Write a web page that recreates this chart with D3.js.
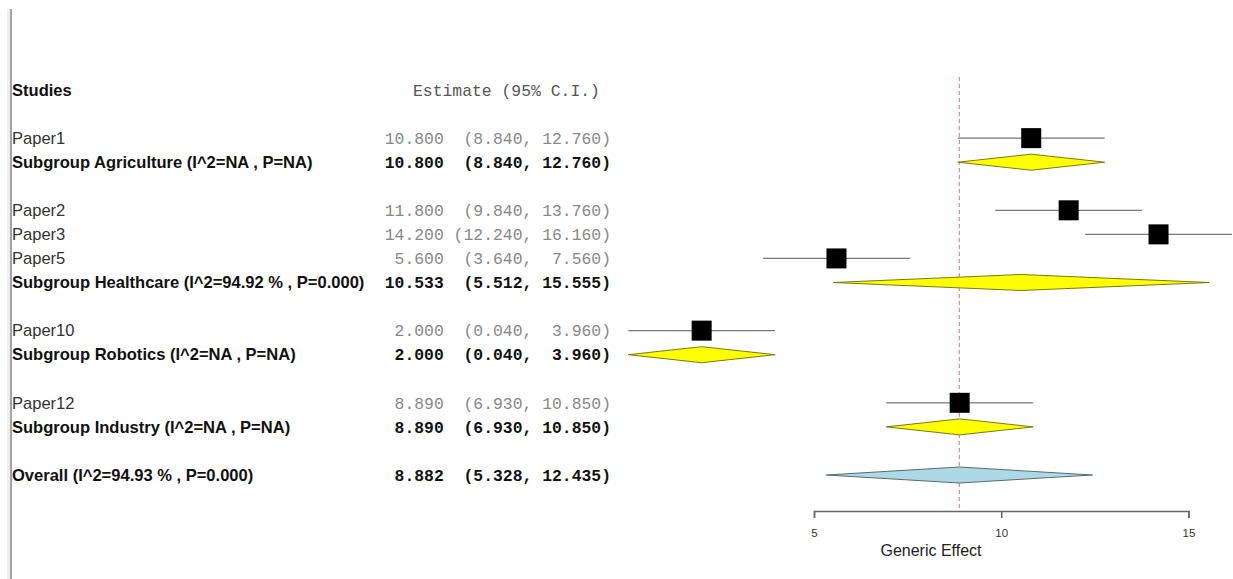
<!DOCTYPE html>
<html>
<head>
<meta charset="utf-8">
<script src="https://cdn.jsdelivr.net/npm/d3@7"></script>
<style>
  html, body { margin: 0; padding: 0; background: #fff; }
  svg { display: block; }
  text { white-space: pre; }
</style>
</head>
<body>
<svg id="chart" width="1233" height="579"></svg>
<script>
// ---- data ----
const labels = ["Paper1", "Subgroup Agriculture (I^2=NA , P=NA)",
  "Paper2", "Paper3", "Paper5", "Subgroup Healthcare (I^2=94.92 % , P=0.000)",
  "Paper10", "Subgroup Robotics (I^2=NA , P=NA)",
  "Paper12", "Subgroup Industry (I^2=NA , P=NA)",
  "Overall (I^2=94.93 % , P=0.000)"];
const rowKinds = ["study", "subgroup", "study", "study", "study", "subgroup",
  "study", "subgroup", "study", "subgroup", "overall"];
const rowIndex = [2, 3, 5, 6, 7, 8, 10, 11, 13, 14, 16];
const estimates = [10.800, 10.800, 11.800, 14.200, 5.600, 10.533, 2.000, 2.000, 8.890, 8.890, 8.882];
const lowers = [8.840, 8.840, 9.840, 12.240, 3.640, 5.512, 0.040, 0.040, 6.930, 6.930, 5.328];
const uppers = [12.760, 12.760, 13.760, 16.160, 7.560, 15.555, 3.960, 3.960, 10.850, 10.850, 12.435];
const tickValues = [5, 10, 15];
const overallEstimate = 8.882;
const headerStudies = "Studies";
const headerEstimate = "Estimate (95% C.I.)";
const axisTitle = "Generic Effect";

// ---- layout ----
const svg = d3.select("#chart");
const x = d3.scaleLinear().domain([5, 15]).range([814, 1188.5]);
const y = d3.scaleLinear().domain([0, 16]).range([90, 475]);
const sans = "'Liberation Sans', Arial, Helvetica, sans-serif";
const mono = "'Liberation Mono', 'Courier New', monospace";
const labelSize = 16.55;

// left border
svg.append("rect").attr("x", 7).attr("y", 9).attr("width", 3).attr("height", 570).attr("fill", "#eeeeee");
svg.append("line").attr("x1", 11).attr("x2", 11).attr("y1", 9).attr("y2", 579)
  .attr("stroke", "#a0a4a8").attr("stroke-width", 2);

// headers
svg.append("text").attr("x", 12).attr("y", y(0)).attr("dy", "0.35em")
  .attr("font-family", sans).attr("font-size", labelSize).attr("font-weight", "bold")
  .attr("fill", "#111").text(headerStudies);
svg.append("text").attr("x", 413).attr("y", y(0)).attr("dy", "0.35em")
  .attr("font-family", mono).attr("font-size", 16.4)
  .attr("fill", "#555").text(headerEstimate);

const rows = labels.map((l, i) => ({
  label: l, kind: rowKinds[i], row: rowIndex[i],
  est: estimates[i], lo: lowers[i], hi: uppers[i]
}));

function fmtCI(d) {
  const e = d.est.toFixed(3).padStart(6);
  const lo = ("(" + d.lo.toFixed(3) + ",").padStart(8);
  const hi = (d.hi.toFixed(3) + ")").padStart(7);
  return e + " " + lo + " " + hi;
}

// labels
svg.selectAll("text.lab").data(rows).enter().append("text")
  .attr("class", "lab")
  .attr("x", 12).attr("y", d => y(d.row)).attr("dy", "0.35em")
  .attr("font-family", sans).attr("font-size", labelSize)
  .attr("font-weight", d => d.kind === "study" ? "normal" : "bold")
  .attr("fill", d => d.kind === "study" ? "#333" : "#111")
  .text(d => d.label);

// estimates text
svg.selectAll("text.est").data(rows).enter().append("text")
  .attr("class", "est")
  .attr("x", 611).attr("y", d => y(d.row)).attr("dy", "0.35em")
  .attr("text-anchor", "end")
  .attr("font-family", mono).attr("font-size", 16.4)
  .attr("font-weight", d => d.kind === "study" ? "normal" : "bold")
  .attr("fill", d => d.kind === "study" ? "#888" : "#111")
  .text(fmtCI);

// reference line
svg.append("line")
  .attr("x1", x(overallEstimate)).attr("x2", x(overallEstimate))
  .attr("y1", 77).attr("y2", 511)
  .attr("stroke", "#ff8080").attr("stroke-width", 1.2)
  .attr("stroke-dasharray", "4,3");

// study CIs and boxes
const studies = rows.filter(d => d.kind === "study");
svg.selectAll("line.ci").data(studies).enter().append("line")
  .attr("class", "ci")
  .attr("x1", d => x(d.lo)).attr("x2", d => x(d.hi))
  .attr("y1", d => y(d.row)).attr("y2", d => y(d.row))
  .attr("stroke", "#777").attr("stroke-width", 1.2);
svg.selectAll("rect.box").data(studies).enter().append("rect")
  .attr("class", "box")
  .attr("x", d => x(d.est) - 10).attr("y", d => y(d.row) - 10)
  .attr("width", 20).attr("height", 20)
  .attr("fill", "#000");

// diamonds
const diamonds = rows.filter(d => d.kind !== "study");
svg.selectAll("path.dia").data(diamonds).enter().append("path")
  .attr("class", "dia")
  .attr("d", d => {
    const cy = y(d.row), h = 8;
    return `M${x(d.lo)},${cy}L${x(d.est)},${cy - h}L${x(d.hi)},${cy}L${x(d.est)},${cy + h}Z`;
  })
  .attr("fill", d => d.kind === "overall" ? "#add8e6" : "#ffff00")
  .attr("stroke", d => d.kind === "overall" ? "#5a6a70" : "#7a7a10")
  .attr("stroke-width", 1);

// axis
const axis = svg.append("g").attr("transform", "translate(0,511)")
  .call(d3.axisBottom(x).tickValues(tickValues).tickSize(7).tickSizeOuter(7).tickPadding(11)
    .tickFormat(d3.format("d")));
axis.select(".domain").attr("stroke", "#666").attr("stroke-width", 1.5);
axis.selectAll(".tick line").attr("stroke", "#666").attr("stroke-width", 1.5);
axis.selectAll(".tick text").attr("font-family", sans).attr("font-size", 11.5).attr("fill", "#333");

svg.append("text").attr("x", 931).attr("y", 556)
  .attr("text-anchor", "middle")
  .attr("font-family", sans).attr("font-size", 16).attr("fill", "#222")
  .text(axisTitle);
</script>
</body>
</html>
